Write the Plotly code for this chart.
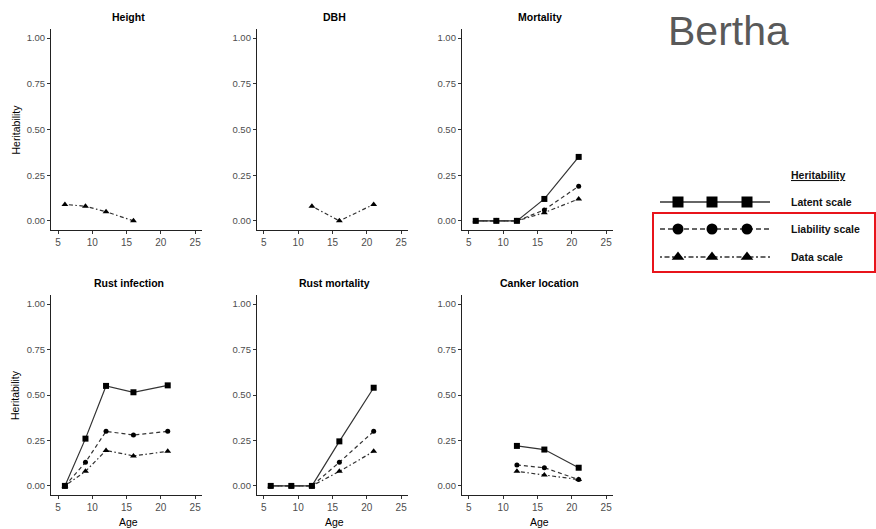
import plotly.graph_objects as go

W, H = 876, 529

# ---------------- data ----------------
AGES = [6, 9, 12, 16, 21]
PANEL_TITLES = ["Height", "DBH", "Mortality", "Rust infection", "Rust mortality", "Canker location"]
SCALE_NAMES = ["Latent scale", "Liability scale", "Data scale"]
X_TICKS = [5, 10, 15, 20, 25]
Y_TICKS = [0, 0.25, 0.5, 0.75, 1.0]

height_latent = [None, None, None, None, None]
height_liab = [None, None, None, None, None]
height_data = [0.09, 0.08, 0.05, 0.00, None]

dbh_latent = [None, None, None, None, None]
dbh_liab = [None, None, None, None, None]
dbh_data = [None, None, 0.08, 0.00, 0.09]

mort_latent = [0.0, 0.0, 0.0, 0.12, 0.35]
mort_liab = [0.0, 0.0, 0.0, 0.06, 0.19]
mort_data = [0.0, 0.0, 0.0, 0.045, 0.12]

rinf_latent = [0.0, 0.26, 0.55, 0.515, 0.553]
rinf_liab = [0.0, 0.13, 0.30, 0.28, 0.30]
rinf_data = [0.0, 0.08, 0.195, 0.165, 0.19]

rmort_latent = [0.0, 0.0, 0.0, 0.245, 0.54]
rmort_liab = [0.0, 0.0, 0.0, 0.13, 0.30]
rmort_data = [0.0, 0.0, 0.0, 0.08, 0.19]

cank_latent = [None, None, 0.22, 0.20, 0.10]
cank_liab = [None, None, 0.115, 0.10, 0.035]
cank_data = [None, None, 0.08, 0.06, 0.035]

PANELS = [
    (height_latent, height_liab, height_data),
    (dbh_latent, dbh_liab, dbh_data),
    (mort_latent, mort_liab, mort_data),
    (rinf_latent, rinf_liab, rinf_data),
    (rmort_latent, rmort_liab, rmort_data),
    (cank_latent, cank_liab, cank_data),
]

# ---------------- styles ----------------
STYLES = {
    "Latent scale": dict(dash="solid", symbol="square", size=6),
    "Liability scale": dict(dash="4px,3px", symbol="circle", size=5),
    "Data scale": dict(dash="1.5px,2.5px,4px,2.5px", symbol="triangle-up", size=6),
}

FONT = "Liberation Sans, Arial, sans-serif"

# layout in pixels
COLS = [(51.2, 202.0), (257.0, 408.0), (462.0, 613.0)]
ROWS = [(29.0, 230.0), (295.0, 495.0)]

def px_x(v):
    return v / W

def px_y(v):
    return 1 - v / H

fig = go.Figure()
annotations = []
layout_axes = {}

def note(text, x, y, size, color="black", xanchor="center", angle=0):
    annotations.append(dict(
        text=text, x=px_x(x), y=px_y(y), xref="paper", yref="paper",
        xanchor=xanchor, yanchor="middle", showarrow=False, textangle=angle,
        font=dict(family=FONT, size=size, color=color),
    ))

for i, (series_tuple, title) in enumerate(zip(PANELS, PANEL_TITLES)):
    r, c = divmod(i, 3)
    n = i + 1
    xa = "x" if n == 1 else f"x{n}"
    ya = "y" if n == 1 else f"y{n}"
    x0, x1 = COLS[c]
    y0, y1 = ROWS[r]
    # draw data, liability, latent (latent on top)
    for name, vals in reversed(list(zip(SCALE_NAMES, series_tuple))):
        if all(v is None for v in vals):
            continue
        st = STYLES[name]
        fig.add_trace(go.Scatter(
            x=AGES, y=vals, xaxis=xa, yaxis=ya, mode="lines+markers",
            line=dict(color="#333", width=1.2, dash=st["dash"]),
            marker=dict(color="black", symbol=st["symbol"], size=st["size"],
                        line=dict(width=0), opacity=1),
            showlegend=False, name=name, cliponaxis=False,
        ))
    xkey = "xaxis" if n == 1 else f"xaxis{n}"
    ykey = "yaxis" if n == 1 else f"yaxis{n}"
    layout_axes[xkey] = dict(
        domain=[px_x(x0), px_x(x1)], range=[4, 26], anchor=ya,
        tickvals=X_TICKS, ticktext=[str(t) for t in X_TICKS],
        showline=True, linecolor="#222", linewidth=1.3, ticks="outside",
        ticklen=3, tickcolor="#333", tickwidth=1, showgrid=False, zeroline=False,
        tickfont=dict(family=FONT, size=10, color="#4d4d4d"),
    )
    layout_axes[ykey] = dict(
        domain=[px_y(y1), px_y(y0)], range=[-0.05, 1.05], anchor=xa,
        tickvals=Y_TICKS, ticktext=[f"{t:.2f}" for t in Y_TICKS],
        showline=True, linecolor="#222", linewidth=1.3, ticks="outside",
        ticklen=3, tickcolor="#333", tickwidth=1, showgrid=False, zeroline=False,
        tickfont=dict(family=FONT, size=9.5, color="#4d4d4d"),
    )
    note(f"<b>{title}</b>", (x0 + x1) / 2 + 2, y0 - 12, 10.5)
    if c == 0:
        note("Heritability", 15, (y0 + y1) / 2, 10.5, angle=-90)
    if r == 1:
        note("Age", (x0 + x1) / 2 + 2, 522, 10.5)

# ---------------- custom legend ----------------
LEG_X = [0, 18, 52, 87, 110]
LEG_SIZES_SCALE = [0, 1, 1, 1, 0]
LEG_ROWS = [202, 229, 257]
LEG_DASH = {"Latent scale": "solid", "Liability scale": "5px,3px",
            "Data scale": "2px,2.5px,5px,2.5px"}
for name, yrow in zip(SCALE_NAMES, LEG_ROWS):
    st = STYLES[name]
    fig.add_trace(go.Scatter(
        x=LEG_X, y=[yrow] * len(LEG_X), xaxis="x7", yaxis="y7",
        mode="lines+markers",
        line=dict(color="#333", width=1.6, dash=LEG_DASH[name]),
        marker=dict(color="black", symbol=st["symbol"], opacity=1,
                    size=[s * 11 for s in LEG_SIZES_SCALE], line=dict(width=0)),
        showlegend=False, hoverinfo="skip", cliponaxis=False,
    ))
    note(f"<b>{name}</b>", 789, yrow, 10.5, color="#111", xanchor="left")
note("<b><u>Heritability</u></b>", 789, 175, 10.5, color="#111", xanchor="left")
layout_axes["xaxis7"] = dict(domain=[px_x(660), px_x(770)], range=[0, 110], visible=False, anchor="y7")
layout_axes["yaxis7"] = dict(domain=[px_y(270), px_y(190)], range=[270, 190], visible=False, anchor="x7")

note("Bertha", 666, 31, 41, color="#595959", xanchor="left")

fig.update_layout(
    width=W, height=H, margin=dict(l=0, r=0, t=0, b=0),
    paper_bgcolor="white", plot_bgcolor="white",
    annotations=annotations,
    shapes=[dict(type="rect", xref="paper", yref="paper",
                 x0=px_x(653), x1=px_x(875), y0=px_y(272), y1=px_y(213),
                 line=dict(color="#e8141b", width=2))],
    **layout_axes,
)

fig.write_html("out.html")
